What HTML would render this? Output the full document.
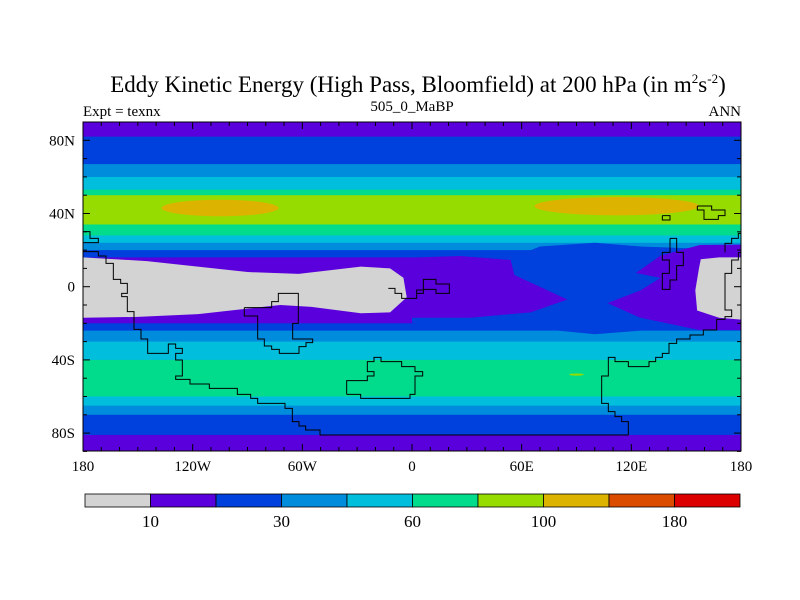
<!DOCTYPE html>
<html><head><meta charset="utf-8"><style>
body{margin:0;background:#fff;width:800px;height:600px;overflow:hidden}
svg{display:block}
text{font-family:"Liberation Serif",serif;fill:#000}
</style></head><body>
<svg id="c" width="800" height="600" xmlns="http://www.w3.org/2000/svg">
<text x="418" y="92" font-size="23" text-anchor="middle">Eddy Kinetic Energy (High Pass, Bloomfield) at 200 hPa (in m<tspan font-size="13" dy="-9">2</tspan><tspan dy="9">s</tspan><tspan font-size="13" dy="-9">-2</tspan><tspan dy="9">)</tspan></text>
<text x="83" y="116" font-size="15">Expt = texnx</text>
<text x="412" y="111" font-size="15" text-anchor="middle">505_0_MaBP</text>
<text x="741" y="116" font-size="15" text-anchor="end">ANN</text>
<defs><clipPath id="pc"><rect x="83" y="122" width="658" height="329"/></clipPath></defs>
<g id="field" clip-path="url(#pc)"></g>
<g id="coast" clip-path="url(#pc)"></g>
<g id="axes"></g>
<g id="cbar"></g>
</svg>
<script>
const levelColors=["#d3d3d3","#5a00dc","#0040dc","#008cdc","#00bedc","#00dc8c","#96dc00","#dcb400","#dc4c00","#dc0000"];
const cbarLabels=["10","30","60","100","180"];
const cbarLabelIdx=[1,3,5,7,9];
// zonal bands: top lat, bottom lat, level index
const bandTop=[90,82,67,60,53,50,34,28,24,20,16,-20,-24,-30,-40,-60,-65,-70,-81];
const bandBot=[82,67,60,53,50,34,28,24,20,16,-20,-24,-30,-40,-60,-65,-70,-81,-90];
const bandLvl=[1,2,3,4,5,6,5,4,3,2,1,2,3,4,5,4,3,2,1];
// elliptical maxima: lon, lat, lon radius, lat radius, level
const blobLon=[-105,112,90];
const blobLat=[43,44,-48];
const blobRx=[32,45,4];
const blobRy=[4.5,5,0.6];
const blobLvl=[7,7,6];
// polygons (lon/lat) for non-zonal regions
const polys=[
 {lvl:0,lon:[-180,-145,-90,-62,-45,-28,-12,-2,3,-2,-12,-28,-55,-72,-90,-117,-150,-180],
        lat:[16,14,8,7,9,11,10,3,-2,-5,-14,-14.5,-11,-10,-12,-15,-16.5,-17]},
 {lvl:2,lon:[0,55,70,100,125,180,180,125,100,60,0],
        lat:[16,16,22,24,22,20,-22,-24,-26,-22,-20]},
 {lvl:1,lon:[-6.5,26,54,56,85,65,32,-1],
        lat:[15.7,16.8,14.6,6.4,-7,-14,-17,-17]},
 {lvl:1,lon:[122.5,136,157.5,180,180,157.5,125,107,125,136],
        lat:[7.5,17,22.8,23,-23.7,-23.7,-17,-9,-2,4.8]},
 {lvl:0,lon:[158,168,180,180,168,156,155,157],
        lat:[15,16,16,-18,-17,-13,-2,10]}
];
const X=lon=>83+(lon+180)*658/360;
const Y=lat=>286.7-lat*1.83;
const NS="http://www.w3.org/2000/svg";
function mk(tag,attrs,parent){const e=document.createElementNS(NS,tag);for(const k in attrs)e.setAttribute(k,attrs[k]);parent.appendChild(e);return e;}
const F=document.getElementById('field');
for(let i=0;i<bandLvl.length;i++){
 const r=mk('rect',{x:83,y:Y(bandTop[i]),width:658,height:Y(bandBot[i])-Y(bandTop[i])+0.5,fill:levelColors[bandLvl[i]]},F);
 
 
}
polys.forEach(p=>{
 const pts=p.lon.map((l,i)=>X(l)+','+Y(p.lat[i])).join(' ');
 const e=mk('polygon',{points:pts,fill:levelColors[p.lvl]},F);
 
 
});
for(let i=0;i<blobLon.length;i++){
 const e=mk('ellipse',{cx:X(blobLon[i]),cy:Y(blobLat[i]),rx:blobRx[i]*658/360,ry:blobRy[i]*1.83,fill:levelColors[blobLvl[i]]},F);
 
 
}
// coastlines (traced pixel outlines of paleo continents)
const C=document.getElementById('coast');
function line(ox,pts){const s=[];for(let i=0;i<pts.length;i+=2)s.push((ox+pts[i]/3)+','+(120+pts[i+1]/3));const e=mk('polyline',{points:s.join(' '),fill:'none',stroke:'#000','stroke-width':1},C);}
line(80,[0,395,55,395,55,408,78,408,78,430,100,430,100,478,122,478,122,490,142,490,142,520,125,520,125,530,142,530,142,575,162,575,162,628,183,628,183,657,203,657,203,700,265,700,265,672,287,672,287,685,307,685,307,700,287,700,287,720,307,720,307,768,287,768,287,778,330,778,330,792,388,792,388,805,472,805,472,823,512,823,512,835,533,835,533,850,615,850,615,865,637,865,637,905,657,905,657,918,677,918,677,930,720,930,720,945,990,945,1645,945,1645,905,1625,905,1625,890,1605,890,1605,875,1585,875,1585,850,1565,850,1565,768,1585,768,1585,712,1605,712,1605,725,1645,725,1645,740,1707,740,1707,725,1727,725,1727,712,1747,712,1747,700,1767,700,1767,670,1790,670,1790,657,1830,657,1830,645,1870,645,1870,630,1910,630,1910,598,1935,598,1935,590,1955,590,1955,570,1935,570,1935,460,1955,460,1955,420,1975,420,1975,398,1990,398]);
line(80,[0,335,30,335,30,355,55,355,55,368,0,368]);
line(80,[493,563,575,563,575,545,595,545,595,520,655,520,655,610,638,610,638,657,698,657,698,668,678,668,678,680,657,680,657,700,598,700,598,688,575,688,575,678,553,678,553,657,533,657,533,588,493,588,493,563]);
line(80,[800,823,800,782,862,782,862,768,882,768,882,755,862,755,862,725,882,725,882,712,903,712,903,725,965,725,965,740,1005,740,1005,755,1028,755,1028,768,1005,768,1005,823,990,823,990,835,842,835,842,823,800,823]);
line(80,[925,505,945,505,945,520,965,520,965,535,1010,535,1010,510,1030,510,1030,478,1068,478,1068,492,1108,492,1108,520,1068,520,1068,508,1030,508,1030,520,1010,520]);
line(410,[780,355,800,355,800,397,820,397,820,437,800,437,800,480,780,480,780,508,757,508,757,460,778,460,778,420,757,420,757,397,780,397,780,355]);
line(410,[757,287,780,287,780,300,757,300,757,287]);
line(410,[862,258,905,258,905,270,945,270,945,287,925,287,925,298,882,298,882,270,862,270,862,258]);
line(410,[945,397,945,370,965,370,965,355,985,355,985,340,995,340]);
// axes
const A=document.getElementById('axes');
mk('rect',{x:83,y:122,width:658,height:329,fill:'none',stroke:'#000','stroke-width':1},A);
for(let lon=-180;lon<=180;lon+=10){const x=X(lon),L=lon%60===0?7:4;mk('line',{x1:x,y1:451,x2:x,y2:451-L,stroke:'#000'},A);mk('line',{x1:x,y1:122,x2:x,y2:122+L,stroke:'#000'},A);}
for(let lat=-90;lat<=90;lat+=10){const y=Y(lat),L=lat%40===0?7:4;mk('line',{x1:83,y1:y,x2:83+L,y2:y,stroke:'#000'},A);mk('line',{x1:741,y1:y,x2:741-L,y2:y,stroke:'#000'},A);}
const xLab=["180","120W","60W","0","60E","120E","180"],xLon=[-180,-120,-60,0,60,120,180];
xLab.forEach((t,i)=>{const e=mk('text',{x:X(xLon[i]),y:471,'font-size':15,'text-anchor':'middle'},A);e.textContent=t;});
const yLab=["80N","40N","0","40S","80S"],yLat=[80,40,0,-40,-80];
yLab.forEach((t,i)=>{const e=mk('text',{x:75,y:Y(yLat[i])+5,'font-size':15,'text-anchor':'end'},A);e.textContent=t;});
// colorbar
const B=document.getElementById('cbar');const bw=65.5;
levelColors.forEach((c,i)=>{const r=mk('rect',{x:85+i*bw,y:494,width:bw,height:13,fill:c,stroke:'#000','stroke-width':0.8},B);});
cbarLabels.forEach((t,i)=>{const e=mk('text',{x:85+cbarLabelIdx[i]*bw,y:527,'font-size':17,'text-anchor':'middle'},B);e.textContent=t;});
</script>
</body></html>
